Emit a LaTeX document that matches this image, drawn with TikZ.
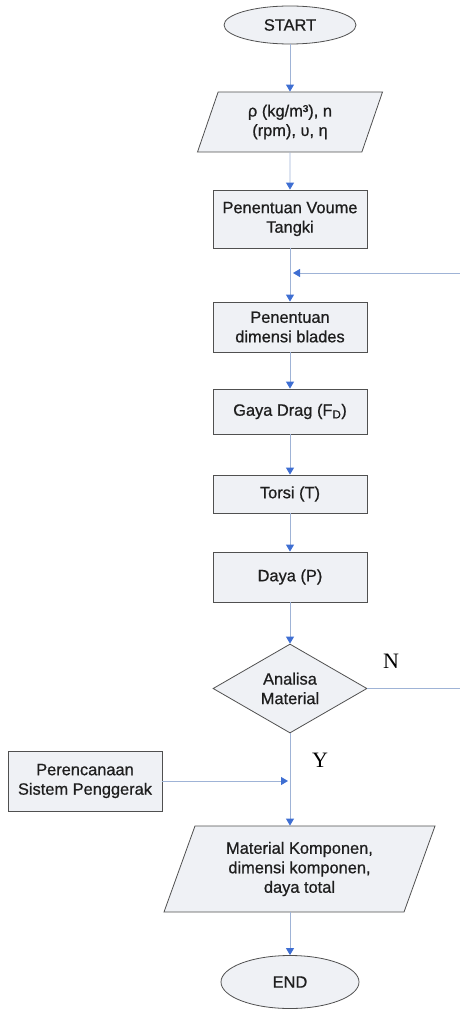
\documentclass[tikz,border=0pt]{standalone}
\usepackage{fontspec}
\setmainfont{Liberation Sans}
\newfontfamily\diagfont{Liberation Sans}[FakeBold=0.7]
\newfontfamily\serifYN{Liberation Serif}
\usetikzlibrary{shapes.geometric,arrows.meta}
\definecolor{tipblue}{HTML}{3E6ED2}
\definecolor{linecol}{HTML}{9FB3D6}
\definecolor{boxfill}{HTML}{EFF1F5}
\definecolor{boxline}{HTML}{505050}
\definecolor{txt}{HTML}{1E1E1E}
\tikzset{
  every node/.style={text=txt, font=\diagfont\fontsize{16.4}{19.5}\selectfont},
  base/.style={draw=boxline, line width=0.8pt, fill=boxfill, align=center, inner sep=2pt},
  procbox/.style={base, rectangle, minimum width=154pt},
  term/.style={base, ellipse},
  iobox/.style={base, trapezium, trapezium left angle=62, trapezium right angle=118, trapezium stretches body=true},
  decbox/.style={base, diamond, aspect=1.73, minimum width=154pt, minimum height=89pt, inner sep=0pt},
  conn/.style={draw=linecol, line width=0.9pt},
  arr/.style={conn, -{Triangle[width=8pt,length=7pt,color=tipblue]}},
  yn/.style={font=\serifYN\fontsize{22}{24}\selectfont, text=black}
}
\begin{document}
\begin{tikzpicture}[x=1pt,y=-1pt]
\useasboundingbox (0,0) rectangle (460,1011);
\node[term, minimum width=132pt, minimum height=38pt] (start) at (290,25) {START};
\node[iobox, minimum width=185pt, minimum height=60pt] (in1) at (290,122) {ρ (kg/m³), n\\(rpm), υ, η};
\node[procbox, minimum height=58pt] (vol) at (290,219) {Penentuan Voume\\Tangki};
\node[procbox, minimum height=50pt] (blades) at (290,327) {Penentuan\\dimensi blades};
\node[procbox, minimum height=45pt] (drag) at (290,411.5) {Gaya Drag (F\textsubscript{D})};
\node[procbox, minimum height=38pt] (torsi) at (290,494) {Torsi (T)};
\node[procbox, minimum height=50pt] (daya) at (290,577) {Daya (P)};
\node[decbox] (ana) at (290,688.5) {Analisa\\Material};
\node[procbox, minimum height=60pt] (pers) at (85,781) {Perencanaan\\Sistem Penggerak};
\node[iobox, minimum width=271pt, minimum height=86pt] (in2) at (299.5,869) {Material Komponen,\\dimensi komponen,\\daya total};
\node[term, minimum width=138pt, minimum height=53pt] (end) at (290,982) {END};
\node[yn] (nlab) at (391,661) {N};
\node[yn] (ylab) at (320,760) {Y};
\coordinate (fbtop) at (460,273);
\coordinate (jtop) at (290,273);
\coordinate (fbbot) at (460,688.5);
\coordinate (jbot) at (290,781);
\draw[arr] (start) -- (in1);
\draw[arr] (in1) -- (vol);
\draw[arr] (vol) -- (blades);
\draw[arr, shorten >=3pt] (fbtop) -- (jtop);
\draw[arr] (blades) -- (drag);
\draw[arr] (drag) -- (torsi);
\draw[arr] (torsi) -- (daya);
\draw[arr] (daya) -- (ana);
\draw[conn] (ana.east) -- (fbbot);
\draw[arr] (ana.south) -- (ana.south |- in2.north);
\draw[arr, shorten >=2pt] (pers.east) -- (jbot);
\draw[arr] (in2.south -| end.north) -- (end);
\end{tikzpicture}
\end{document}
